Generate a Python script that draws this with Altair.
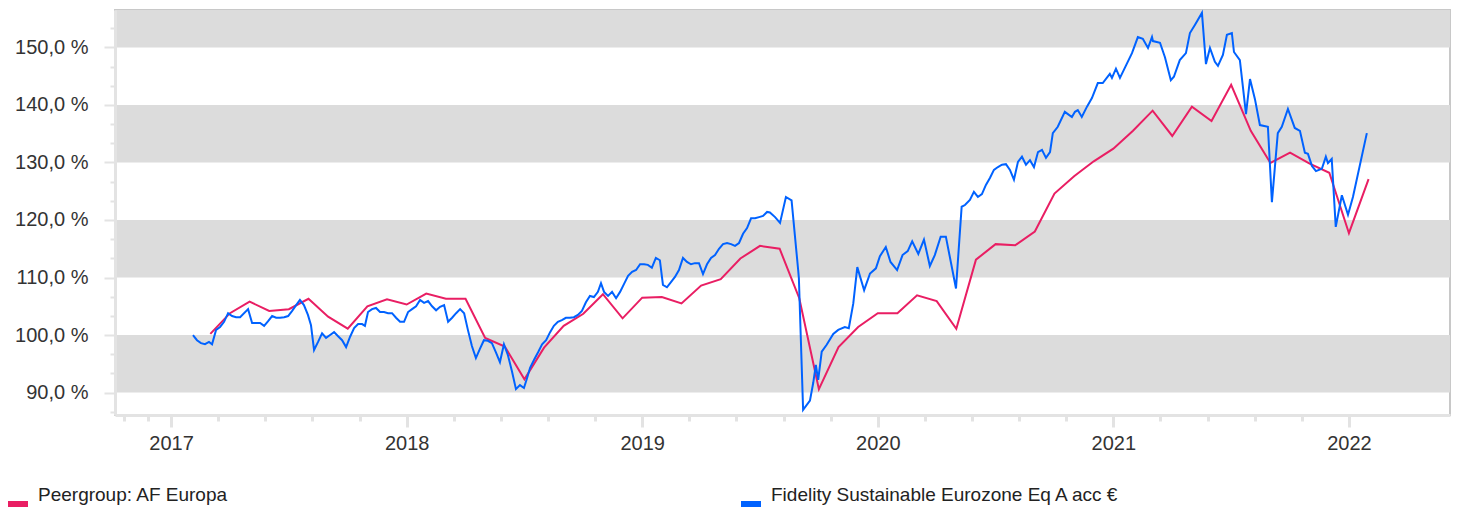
import altair as alt
import pandas as pd

# ---------------- data ----------------
peer_name = "Peergroup: AF Europa"
fund_name = "Fidelity Sustainable Eurozone Eq A acc €"

peer_months = [
    "2017-03", "2017-04", "2017-05", "2017-06", "2017-07", "2017-08", "2017-09", "2017-10", "2017-11", "2017-12",
    "2018-01", "2018-02", "2018-03", "2018-04", "2018-05", "2018-06", "2018-07", "2018-08", "2018-09", "2018-10", "2018-11", "2018-12",
    "2019-01", "2019-02", "2019-03", "2019-04", "2019-05", "2019-06", "2019-07", "2019-08", "2019-09", "2019-10", "2019-11", "2019-12",
    "2020-01", "2020-02", "2020-03", "2020-04", "2020-05", "2020-06", "2020-07", "2020-08", "2020-09", "2020-10", "2020-11", "2020-12",
    "2021-01", "2021-02", "2021-03", "2021-04", "2021-05", "2021-06", "2021-07", "2021-08", "2021-09", "2021-10", "2021-11", "2021-12",
    "2022-01", "2022-02",
]
peer_values = [
    100.2, 103.8, 105.8, 104.2, 104.5, 106.3, 103.2, 101.1, 105.0, 106.2,
    105.3, 107.2, 106.3, 106.3, 99.5, 98.0, 92.3, 97.8, 101.6, 103.7, 107.1, 102.9,
    106.5, 106.6, 105.5, 108.6, 109.7, 113.3, 115.5, 115.0, 106.4, 90.6, 97.9, 101.4,
    103.8, 103.8, 106.9, 105.9, 101.1, 113.1, 115.8, 115.6, 118.0, 124.6, 127.6, 130.2,
    132.4, 135.5, 139.0, 134.6, 139.7, 137.2, 143.5, 135.5, 129.9, 131.7, 129.8, 128.2,
    117.7, 127.1,
]

fund_years = [
    2017.093, 2017.110, 2017.127, 2017.144, 2017.161, 2017.174, 2017.191, 2017.208, 2017.225, 2017.242,
    2017.259, 2017.276, 2017.293, 2017.327, 2017.344, 2017.361, 2017.378, 2017.395, 2017.412, 2017.429,
    2017.446, 2017.463, 2017.480, 2017.497, 2017.514, 2017.531, 2017.547, 2017.564, 2017.581, 2017.594,
    2017.607, 2017.624, 2017.641, 2017.658, 2017.675, 2017.692, 2017.709, 2017.726, 2017.743, 2017.760,
    2017.777, 2017.794, 2017.811, 2017.823, 2017.836, 2017.853, 2017.870, 2017.887, 2017.904, 2017.921,
    2017.938, 2017.955, 2017.972, 2017.989, 2018.006, 2018.023, 2018.040, 2018.057, 2018.074, 2018.091,
    2018.108, 2018.125, 2018.142, 2018.159, 2018.176, 2018.193, 2018.210, 2018.227, 2018.244, 2018.260,
    2018.277, 2018.294, 2018.311, 2018.328, 2018.345, 2018.362, 2018.379, 2018.396, 2018.413, 2018.430,
    2018.447, 2018.464, 2018.481, 2018.498, 2018.511, 2018.524, 2018.541, 2018.558, 2018.575, 2018.592,
    2018.609, 2018.625, 2018.642, 2018.659, 2018.676, 2018.693, 2018.710, 2018.727, 2018.744, 2018.761,
    2018.778, 2018.795, 2018.812, 2018.825, 2018.838, 2018.855, 2018.872, 2018.889, 2018.906, 2018.923,
    2018.940, 2018.957, 2018.974, 2018.991, 2019.008, 2019.024, 2019.041, 2019.058, 2019.075, 2019.088,
    2019.105, 2019.122, 2019.139, 2019.156, 2019.173, 2019.190, 2019.207, 2019.224, 2019.241, 2019.258,
    2019.275, 2019.292, 2019.309, 2019.326, 2019.343, 2019.360, 2019.377, 2019.394, 2019.411, 2019.428,
    2019.445, 2019.462, 2019.479, 2019.496, 2019.513, 2019.530, 2019.542, 2019.564, 2019.585, 2019.610,
    2019.634, 2019.662, 2019.665, 2019.683, 2019.712, 2019.726, 2019.737, 2019.747, 2019.762, 2019.783,
    2019.811, 2019.832, 2019.860, 2019.877, 2019.896, 2019.913, 2019.942, 2019.967, 2019.992, 2020.009,
    2020.034, 2020.054, 2020.082, 2020.105, 2020.127, 2020.146, 2020.172, 2020.196, 2020.221, 2020.242,
    2020.267, 2020.289, 2020.332, 2020.356, 2020.370, 2020.391,
    2020.408, 2020.425, 2020.442, 2020.459, 2020.476, 2020.493, 2020.510, 2020.527, 2020.544, 2020.561,
    2020.578, 2020.595, 2020.612, 2020.629, 2020.646, 2020.663, 2020.680, 2020.697, 2020.714, 2020.731,
    2020.743, 2020.764, 2020.794, 2020.824, 2020.837, 2020.849, 2020.866, 2020.888, 2020.909, 2020.934,
    2020.955, 2020.985, 2020.994, 2021.011, 2021.028, 2021.079, 2021.104, 2021.125, 2021.147, 2021.164,
    2021.168, 2021.198, 2021.219, 2021.244, 2021.257, 2021.282, 2021.308, 2021.325, 2021.346, 2021.376,
    2021.393, 2021.410, 2021.431, 2021.444, 2021.465, 2021.482, 2021.503, 2021.512, 2021.537, 2021.563,
    2021.580, 2021.601, 2021.622, 2021.656, 2021.673, 2021.698, 2021.715, 2021.741, 2021.770, 2021.792,
    2021.813, 2021.826, 2021.843, 2021.860, 2021.885, 2021.902, 2021.911, 2021.927, 2021.944, 2021.970,
    2021.996, 2022.017, 2022.076,
]
fund_values = [
    100.0, 99.1, 98.6, 98.4, 98.8, 98.4, 100.9, 101.4, 102.3, 103.8,
    103.3, 103.1, 103.1, 104.5, 102.1, 102.1, 102.1, 101.6, 102.4, 103.3,
    103.0, 103.0, 103.1, 103.3, 104.2, 105.2, 106.1, 105.2, 103.5, 101.7,
    97.4, 98.8, 100.3, 99.5, 100.0, 100.5, 99.8, 99.1, 97.9, 99.7,
    101.2, 101.9, 101.9, 101.6, 104.0, 104.5, 104.7, 104.0, 104.0, 103.8,
    103.8, 103.0, 102.3, 102.3, 104.0, 104.5, 105.0, 106.1, 105.6, 105.9,
    105.0, 104.3, 104.9, 105.2, 102.3, 103.0, 103.8, 104.5, 103.8, 100.9,
    98.1, 96.0, 97.6, 99.1, 99.0, 98.6, 97.0, 95.3, 98.4, 96.5,
    93.7, 90.6, 91.3, 90.8, 92.5, 94.3, 95.7, 97.0, 98.4, 99.1,
    100.5, 101.6, 102.3, 102.6, 103.0, 103.0, 103.1, 103.5, 104.2, 105.7,
    106.8, 106.6, 107.5, 109.0, 107.5, 106.8, 107.5, 106.4, 107.5, 108.9,
    110.3, 111.0, 111.3, 112.3, 112.3, 112.2, 111.7, 113.4, 113.0, 108.7,
    108.3, 109.2, 110.1, 111.3, 113.4, 112.7, 112.3, 112.5, 112.5, 110.6,
    112.3, 113.4, 113.9, 115.0, 115.8, 116.0, 115.8, 115.5, 116.0, 117.6,
    118.6, 120.3, 120.3, 120.5, 120.7, 121.4, 121.3, 120.5, 119.5, 124.0,
    123.4, 111.3, 109.9, 87.0, 88.6, 91.7, 94.8, 92.2, 97.1, 98.3,
    100.2, 100.9, 101.4, 101.2, 105.5, 111.8, 107.8, 110.7, 111.6, 113.7,
    115.3, 112.7, 111.3, 113.9, 114.6, 116.3, 114.1, 116.6, 112.0, 113.9,
    117.1, 117.1, 108.1, 122.3, 122.6, 123.5,
    124.9, 124.0, 124.5, 126.1, 127.3, 128.7, 129.2, 129.6, 129.7, 128.7,
    127.0, 130.1, 131.0, 129.6, 130.4, 129.2, 131.8, 132.2, 130.8, 131.8,
    135.1, 136.2, 138.8, 137.9, 138.8, 139.1, 137.9, 139.7, 141.2, 143.8,
    143.8, 145.4, 144.7, 146.3, 144.7, 149.0, 151.8, 151.5, 149.9, 151.8,
    151.1, 150.8, 148.3, 144.3, 144.9, 147.8, 149.0, 152.5, 153.9, 156.0,
    147.1, 149.9, 147.5, 146.8, 148.7, 152.2, 152.5, 149.2, 147.8, 138.4,
    144.5, 141.0, 136.5, 136.2, 123.1, 135.1, 136.2, 139.3, 136.0, 135.5,
    131.7, 131.5, 129.4, 128.5, 128.9, 131.0, 129.9, 130.6, 118.8, 124.3,
    120.9, 124.0, 135.1,
]

band_low = [90, 110, 130, 150]
band_high = [100, 120, 140, 160]

year_labels = [2017, 2018, 2019, 2020, 2021, 2022]

# ---------------- tables ----------------
peer_df = pd.DataFrame({
    "t": [int(m[:4]) + (int(m[5:]) - 1) / 12 for m in peer_months],
    "v": peer_values,
    "series": peer_name,
})
fund_df = pd.DataFrame({"t": fund_years, "v": fund_values, "series": fund_name})
band_df = pd.DataFrame({"lo": band_low, "hi": band_high})

# ---------------- scales / axes ----------------
FONT = "Liberation Sans"
RED = "#e91e63"
BLUE = "#0062ff"

x_scale = alt.Scale(domain=[2016.762, 2022.429], nice=False, zero=False)
y_scale = alt.Scale(domain=[86.1, 156.5], nice=False, zero=False)

x_ticks = [2016.8, 2016.9]
for yr in year_labels:
    x_ticks.append(float(yr))
    if yr < 2022:
        x_ticks += [yr + 0.2, yr + 0.4, yr + 0.6, yr + 0.8]

y_ticks = []
for base in range(80, 160, 10):
    for k in range(3):
        val = base + k * 10 / 3
        if 86.1 <= val <= 156.5:
            y_ticks.append(round(val, 4))

x_axis = alt.Axis(
    values=x_ticks,
    labelExpr="datum.value % 1 == 0 ? format(datum.value, 'd') : ''",
    tickSize={"condition": {"test": "datum.value % 1 == 0", "value": 12}, "value": 6},
    tickColor="#e3e3e3",
    tickWidth=3,
    domainColor="#e3e3e3",
    domainWidth=3,
    labelFont=FONT,
    labelFontSize=20,
    labelColor="#333333",
    labelPadding=6,
    labelOverlap=False,
    grid=False,
    title=None,
    zindex=1,
)
y_axis = alt.Axis(
    values=y_ticks,
    labelExpr="abs(datum.value % 10) < 0.001 ? replace(format(datum.value, '.1f'), '.', ',') + ' %' : ''",
    tickSize={"condition": {"test": "abs(datum.value % 10) < 0.001", "value": 11}, "value": 5},
    tickColor="#e3e3e3",
    tickWidth=2,
    domainColor="#e3e3e3",
    domainWidth=3,
    labelFont=FONT,
    labelFontSize=20,
    labelColor="#333333",
    labelPadding=16,
    labelOverlap=False,
    grid=False,
    title=None,
    zindex=1,
)

color_scale = alt.Scale(domain=[peer_name, fund_name], range=[RED, BLUE])
legend = alt.Legend(
    title=None,
    orient="none",
    legendX=-110,
    legendY=472,
    direction="horizontal",
    columns=2,
    columnPadding=500,
    padding=0,
    labelFont=FONT,
    labelFontSize=19,
    labelColor="#222222",
    labelOffset=7,
    labelLimit=600,
    symbolType="M-1,0.9L1,0.9",
    symbolSize=400,
    symbolStrokeWidth=6,
)

bands = alt.Chart(band_df).mark_rect(color="#dcdcdc", clip=True).encode(
    y=alt.Y("lo:Q", scale=y_scale, axis=y_axis),
    y2="hi:Q",
)

peer_line = alt.Chart(peer_df).mark_line(strokeWidth=2).encode(
    x=alt.X("t:Q", scale=x_scale, axis=x_axis),
    y=alt.Y("v:Q", scale=y_scale, axis=y_axis),
    color=alt.Color("series:N", scale=color_scale, legend=legend),
)
fund_line = alt.Chart(fund_df).mark_line(strokeWidth=2).encode(
    x=alt.X("t:Q", scale=x_scale, axis=x_axis),
    y=alt.Y("v:Q", scale=y_scale, axis=y_axis),
    color=alt.Color("series:N", scale=color_scale, legend=legend),
)

chart = alt.layer(bands, peer_line, fund_line).properties(
    width=1335,
    height=405,
    autosize=alt.AutoSizeParams(type="none"),
    padding={"left": 107, "top": 2, "right": 2, "bottom": 95},
    background="white",
).configure_view(stroke="#c8c8c8", strokeWidth=2)

chart.save("out.html", embed_options={"renderer": "svg", "actions": False})
